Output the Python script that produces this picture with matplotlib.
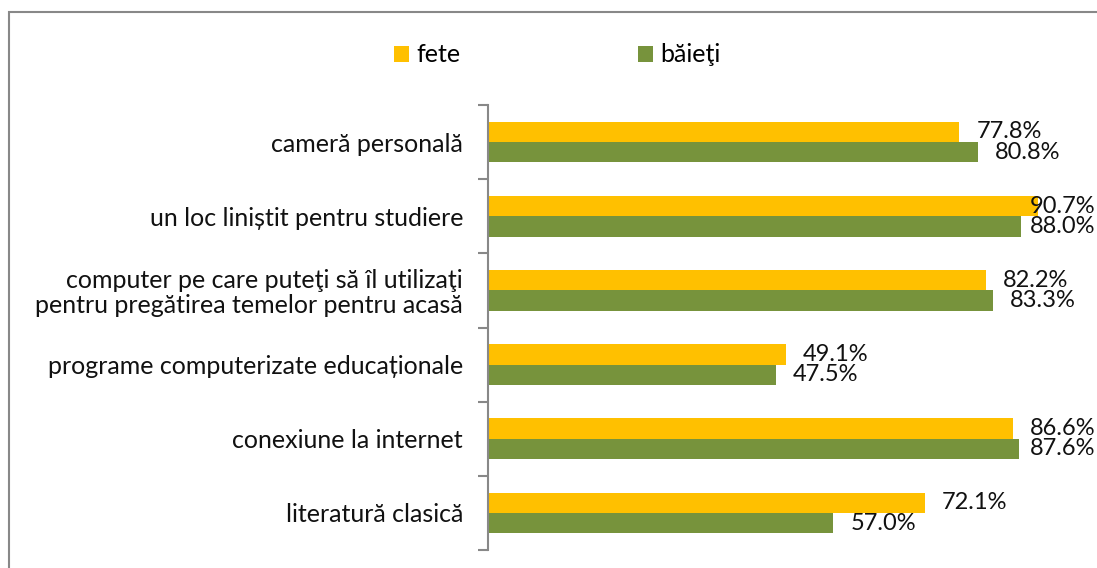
import matplotlib.pyplot as plt
import numpy as np
from matplotlib.patches import Rectangle

plt.rcParams['font.family'] = ['Lato', 'DejaVu Sans']

categories = [
    'cameră personală',
    'un loc liniștit pentru studiere',
    'computer pe care puteţi să îl utilizaţi\npentru pregătirea temelor pentru acasă',
    'programe computerizate educaționale',
    'conexiune la internet',
    'literatură clasică',
]
fete = [77.8, 90.7, 82.2, 49.1, 86.6, 72.1]
baieti = [80.8, 88.0, 83.3, 47.5, 87.6, 57.0]

c_fete = '#FFC000'
c_baieti = '#77933C'

fig = plt.figure(figsize=(10.97, 5.68), dpi=100)
ax = fig.add_axes([488 / 1097, 1 - 550 / 568, (1094 - 488) / 1097, (550 - 105) / 568])

# figure border (left/top visible)
fig.patches.append(Rectangle((9 / 1097, -0.1), 1.2, (1 - 12 / 568) + 0.1,
                             transform=fig.transFigure, fill=False,
                             edgecolor='#888888', linewidth=1.5))

y = np.arange(len(categories))
h = 0.275
ax.barh(y - h / 2, fete, height=h, color=c_fete, label='fete')
ax.barh(y + h / 2, baieti, height=h, color=c_baieti, label='băieţi')

for yi, v in zip(y, fete):
    ax.text(min(v + 2.8, 89.4), yi - h / 2, f'{v:.1f}%', va='center', ha='left',
            fontsize=17, color='#111111')
for yi, v in zip(y, baieti):
    ax.text(min(v + 2.8, 89.4), yi + h / 2, f'{v:.1f}%', va='center', ha='left',
            fontsize=17, color='#111111')

ax.set_xlim(0, 100)
ax.set_ylim(len(categories) - 0.5, -0.5)
ax.set_yticks(y)
ax.set_yticklabels(categories, fontsize=18, color='#111111', ha='right',
                   multialignment='right', linespacing=1.1)
ax.set_yticks(np.arange(len(categories) + 1) - 0.5, minor=True)
ax.tick_params(axis='y', which='major', length=0, pad=18)
ax.tick_params(axis='y', which='minor', length=7, width=1.5, color='#888888')
ax.set_xticks([])
for s in ['top', 'right', 'bottom']:
    ax.spines[s].set_visible(False)
ax.spines['left'].set_color('#888888')
ax.spines['left'].set_linewidth(1.5)

fig.legend(handles=ax.patches[:1] + ax.patches[6:7], labels=['fete', 'băieţi'],
           loc='center left', bbox_to_anchor=(394 / 1097, 1 - 55 / 568), ncol=2,
           frameon=False, fontsize=18, handlelength=0.6, handleheight=0.6,
           handletextpad=0.3, columnspacing=7.1, borderaxespad=0, borderpad=0)

fig.savefig('out.png', dpi=100)
